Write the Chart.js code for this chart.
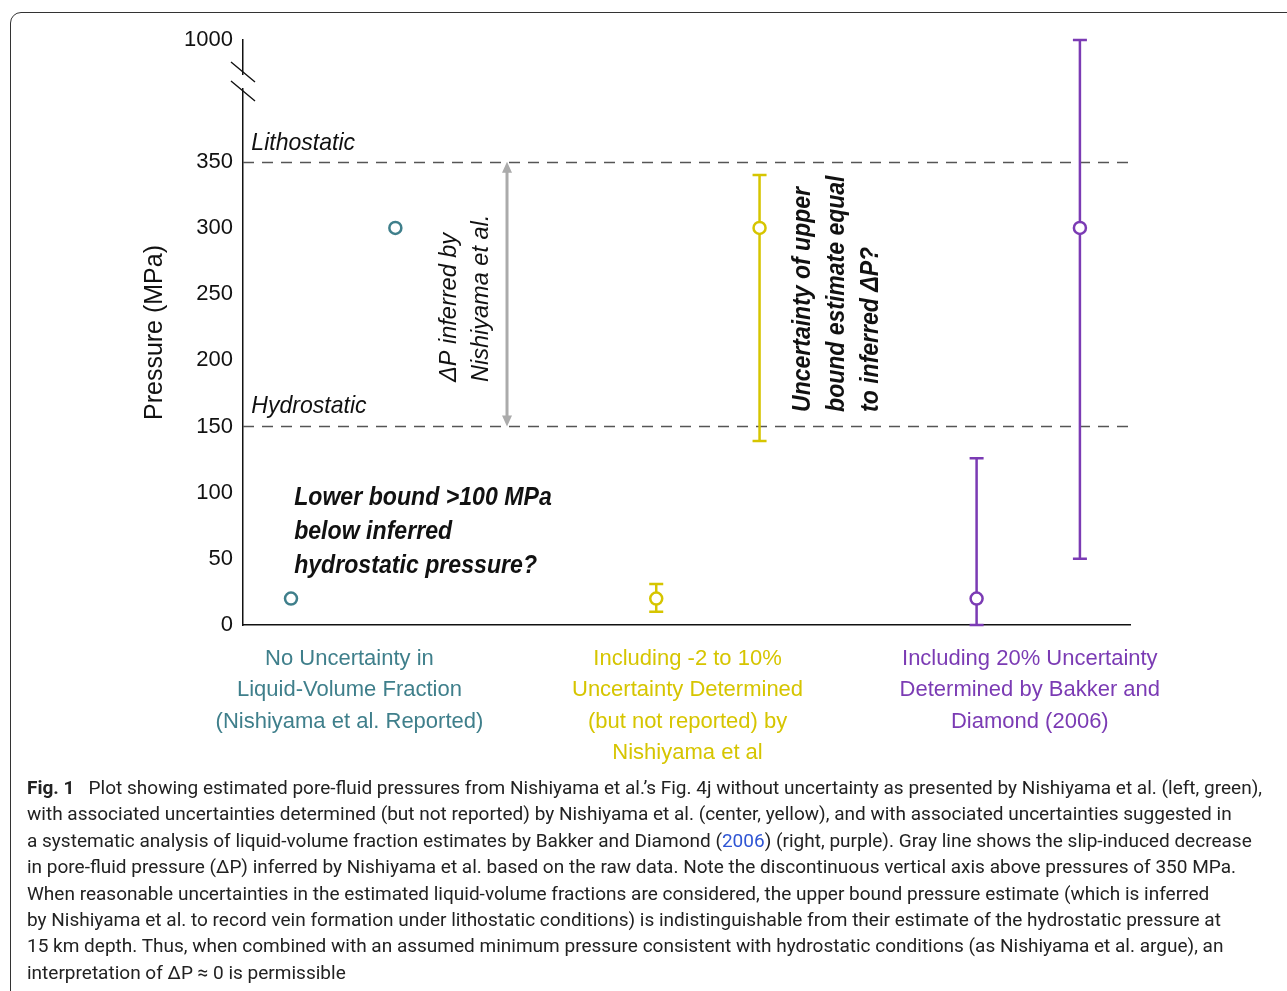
<!DOCTYPE html>
<html>
<head>
<meta charset="utf-8">
<script src="https://cdn.jsdelivr.net/npm/chart.js@4.4.1/dist/chart.umd.min.js"></script>
<style>
  html, body { margin: 0; padding: 0; background: #fff; width: 1287px; height: 991px; overflow: hidden; }
  #frame { position: absolute; left: 10px; top: 12px; width: 1400px; height: 1100px; border: 1.5px solid #333; border-radius: 11px; box-sizing: border-box; }
  #wrap { position: absolute; left: 0; top: 0; width: 1287px; height: 780px; }
  #caption { position: absolute; left: 27px; top: 775px; font-family: "Liberation Sans Narrow", Roboto, sans-serif; font-size: 19px; line-height: 26.4px; color: #222; white-space: nowrap; transform-origin: 0 0; }
  #caption a { color: #2f55d4; text-decoration: none; }
</style>
</head>
<body>
<div id="frame"></div>
<div id="wrap"><canvas id="pressureChart" width="1287" height="780"></canvas></div>
<div id="caption">
  <div><span id="firstLine"><b>Fig. 1</b>&nbsp;&nbsp; Plot showing estimated pore-fluid pressures from Nishiyama et al.’s Fig. 4j without uncertainty as presented by Nishiyama et al. (left, green),</span></div>
  <div>with associated uncertainties determined (but not reported) by Nishiyama et al. (center, yellow), and with associated uncertainties suggested in</div>
  <div>a systematic analysis of liquid-volume fraction estimates by Bakker and Diamond (<a>2006</a>) (right, purple). Gray line shows the slip-induced decrease</div>
  <div>in pore-fluid pressure (ΔP) inferred by Nishiyama et al. based on the raw data. Note the discontinuous vertical axis above pressures of 350 MPa.</div>
  <div>When reasonable uncertainties in the estimated liquid-volume fractions are considered, the upper bound pressure estimate (which is inferred</div>
  <div>by Nishiyama et al. to record vein formation under lithostatic conditions) is indistinguishable from their estimate of the hydrostatic pressure at</div>
  <div>15 km depth. Thus, when combined with an assumed minimum pressure consistent with hydrostatic conditions (as Nishiyama et al. argue), an</div>
  <div>interpretation of ΔP ≈ 0 is permissible</div>
</div>
<script>
// categories (x axis groups)
const categories = [
    ['No Uncertainty in', 'Liquid-Volume Fraction', '(Nishiyama et al. Reported)'],
    ['Including -2 to 10%', 'Uncertainty Determined', '(but not reported) by', 'Nishiyama et al'],
    ['Including 20% Uncertainty', 'Determined by Bakker and', 'Diamond (2006)']
];
const categoryX = [1.02, 4.26, 7.54];
const seriesColors = ['#3f7f8b', '#d6c500', '#7b3bb4'];

// points per group
const pointX = [[0.46, 1.46], [3.96, 4.95], [7.03, 8.02]];
const pressure = [[20, 300], [20, 300], [20, 300]];
const lowerBound = [[null, null], [10, 139], [0, 50]];
const upperBound = [[null, null], [31, 340], [126, 1000]];

const yTicks = [0, 50, 100, 150, 200, 250, 300, 350, 1000];
const lithostatic = 350;
const hydrostatic = 150;

// broken axis: everything above 350 is squeezed
const BREAK = 350, TOP_REAL = 1000, TOP_PLOT = 442;
function toPlot(v) {
    return v <= BREAK ? v : BREAK + (v - BREAK) * (TOP_PLOT - BREAK) / (TOP_REAL - BREAK);
}

function drawLines(ctx, lines, px, py, font, lh, rotate, sx) {
    ctx.save();
    ctx.translate(px, py);
    if (rotate) ctx.rotate(-Math.PI / 2);
    ctx.scale(sx, 1);
    ctx.font = font;
    ctx.fillStyle = '#111';
    ctx.textAlign = 'left';
    ctx.textBaseline = 'middle';
    lines.forEach((t, k) => ctx.fillText(t, 0, k * lh));
    ctx.restore();
}

const extras = {
    id: 'extras',
    beforeDatasetsDraw(chart) {
        const {ctx, chartArea: a, scales: {x, y}} = chart;
        ctx.save();
        // lithostatic / hydrostatic
        ctx.strokeStyle = '#555';
        ctx.lineWidth = 1.3;
        ctx.setLineDash([11, 8]);
        [lithostatic, hydrostatic].forEach(v => {
            const py = Math.round(y.getPixelForValue(v)) + 0.5;
            ctx.beginPath();
            ctx.moveTo(a.left, py);
            ctx.lineTo(a.right + 3, py);
            ctx.stroke();
        });
        ctx.setLineDash([]);

        // delta P arrow
        const ax = x.getPixelForValue(2.53);
        const aTop = y.getPixelForValue(lithostatic), aBot = y.getPixelForValue(hydrostatic);
        ctx.strokeStyle = '#ababab';
        ctx.fillStyle = '#ababab';
        ctx.lineWidth = 3;
        ctx.beginPath();
        ctx.moveTo(ax, aTop + 8);
        ctx.lineTo(ax, aBot - 8);
        ctx.stroke();
        ctx.beginPath();
        ctx.moveTo(ax, aTop); ctx.lineTo(ax - 5, aTop + 11); ctx.lineTo(ax + 5, aTop + 11); ctx.closePath();
        ctx.moveTo(ax, aBot); ctx.lineTo(ax - 5, aBot - 11); ctx.lineTo(ax + 5, aBot - 11); ctx.closePath();
        ctx.fill();

        // error bars
        ctx.lineWidth = 2.5;
        lowerBound.forEach((grp, i) => grp.forEach((lo, j) => {
            if (lo == null) return;
            const px = x.getPixelForValue(pointX[i][j]);
            const y1 = y.getPixelForValue(toPlot(lo));
            const y2 = y.getPixelForValue(toPlot(upperBound[i][j]));
            ctx.strokeStyle = seriesColors[i];
            ctx.beginPath();
            ctx.moveTo(px, y1); ctx.lineTo(px, y2);
            ctx.moveTo(px - 7, y1); ctx.lineTo(px + 7, y1);
            ctx.moveTo(px - 7, y2); ctx.lineTo(px + 7, y2);
            ctx.stroke();
        }));
        ctx.restore();
    },
    afterDraw(chart) {
        const {ctx, chartArea: a, scales: {x, y}} = chart;
        // axis break
        ctx.save();
        ctx.fillStyle = '#fff';
        ctx.fillRect(a.left - 3, a.top + 35, 6, 13);
        ctx.strokeStyle = '#111';
        ctx.lineWidth = 1.4;
        ctx.beginPath();
        ctx.moveTo(a.left - 12, a.top + 22); ctx.lineTo(a.left + 12, a.top + 42);
        ctx.moveTo(a.left - 12, a.top + 41); ctx.lineTo(a.left + 12, a.top + 61);
        ctx.stroke();
        ctx.restore();

        const X = v => x.getPixelForValue(v), Y = v => y.getPixelForValue(v);
        drawLines(ctx, ['Lithostatic'], X(0.08), Y(364), 'italic 24px "Liberation Sans", Arial', 0, false, 0.96);
        drawLines(ctx, ['Hydrostatic'], X(0.08), Y(165.5), 'italic 24px "Liberation Sans", Arial', 0, false, 0.96);
        drawLines(ctx, ['ΔP inferred by', 'Nishiyama et al.'], X(1.98), Y(183.6),
            'italic 24px "Liberation Sans", Arial', 32, true, 0.98);
        drawLines(ctx, ['Lower bound >100 MPa', 'below inferred', 'hydrostatic pressure?'], X(0.49), Y(96),
            'bold italic 25px "Liberation Sans", Arial', 34, false, 0.925);
        drawLines(ctx, ['Uncertainty of upper', 'bound estimate equal', 'to inferred ΔP?'], X(5.37), Y(161),
            'bold italic 25px "Liberation Sans", Arial', 34, true, 0.92);
    }
};

const datasets = pointX.map((xs, i) => ({
    data: xs.map((xv, j) => ({x: xv, y: toPlot(pressure[i][j])})),
    showLine: false,
    pointStyle: 'circle',
    pointRadius: 6,
    pointBorderWidth: 2.5,
    borderColor: seriesColors[i],
    backgroundColor: '#fff'
}));

Chart.defaults.font.family = '"Liberation Sans", Arial, sans-serif';

new Chart(document.getElementById('pressureChart'), {
    type: 'scatter',
    data: {datasets},
    plugins: [extras],
    options: {
        responsive: false,
        animation: false,
        layout: {padding: {left: 140, top: 40, right: 157, bottom: 0}},
        plugins: {legend: {display: false}, tooltip: {enabled: false}},
        scales: {
            x: {
                type: 'linear',
                min: 0,
                max: 8.5,
                afterBuildTicks: s => { s.ticks = categoryX.map(v => ({value: v})); },
                afterFit: s => { s.height = 155; },
                grid: {display: false, drawTicks: false},
                border: {display: true, color: '#111', width: 1.5},
                ticks: {
                    autoSkip: false,
                    maxRotation: 0,
                    padding: 18,
                    font: {size: 22, lineHeight: 1.432},
                    color: c => seriesColors[c.index],
                    callback: (v, i) => categories[i]
                }
            },
            y: {
                type: 'linear',
                min: 0,
                max: TOP_PLOT,
                afterBuildTicks: s => { s.ticks = yTicks.map(v => ({value: toPlot(v)})); },
                afterFit: s => { s.width = 103; },
                grid: {display: false, drawTicks: false},
                border: {display: true, color: '#111', width: 1.5},
                ticks: {
                    padding: 10,
                    font: {size: 22},
                    color: '#111',
                    callback: (v, i) => String(yTicks[i])
                },
                title: {
                    display: true,
                    text: 'Pressure (MPa)',
                    color: '#111',
                    font: {size: 25},
                    padding: {top: 0, bottom: 0}
                }
            }
        }
    }
});

// squeeze caption to the width of the original lines
const first = document.getElementById('firstLine');
const sx = 1235 / first.getBoundingClientRect().width;
document.getElementById('caption').style.transform = 'scaleX(' + sx + ')';
</script>
</body>
</html>
